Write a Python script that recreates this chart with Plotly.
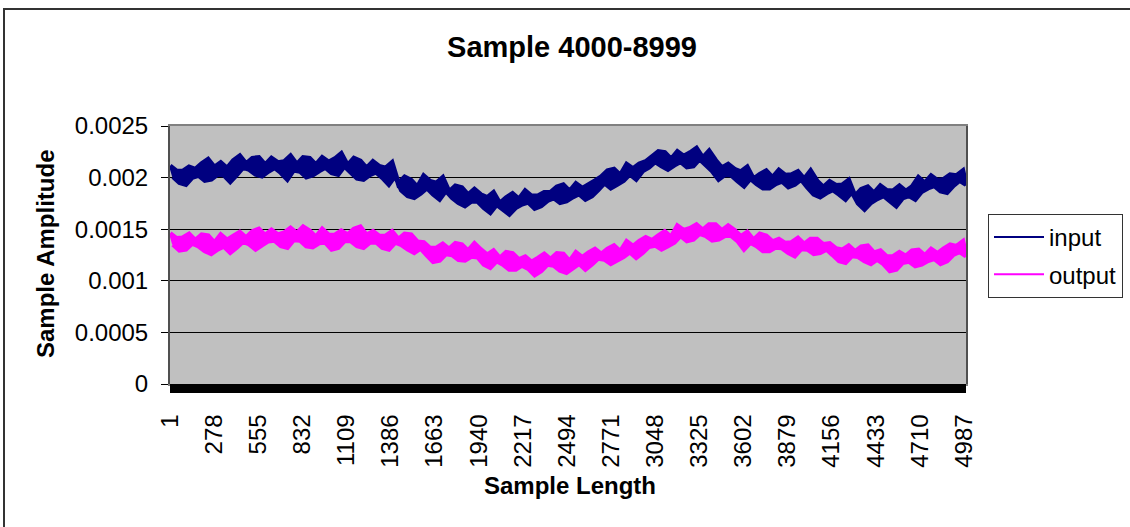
import numpy as np
import plotly.graph_objects as go

# ---- data ----
tick_labels = ["1", "278", "555", "832", "1109", "1386", "1663", "1940", "2217", "2494",
               "2771", "3048", "3325", "3602", "3879", "4156", "4433", "4710", "4987"]
tick_positions = [int(t) for t in tick_labels]
n_samples = 5000

y_tick_values = [0, 0.0005, 0.001, 0.0015, 0.002, 0.0025]
y_tick_labels = ["0", "0.0005", "0.001", "0.0015", "0.002", "0.0025"]

# noisy samples: values alternate between local highs and lows of the noise band
input_amp = [
    0.002113, 0.002008, 0.002065, 0.001952, 0.002061, 0.001935, 0.002103, 0.002002,
    0.002079, 0.002022, 0.002135, 0.001974, 0.002177, 0.001984, 0.002100, 0.002032,
    0.002145, 0.002025, 0.002090, 0.001961, 0.002164, 0.002026, 0.002210, 0.002100,
    0.002133, 0.002079, 0.002187, 0.002032, 0.002194, 0.002016, 0.002123, 0.002061,
    0.002187, 0.002097, 0.002145, 0.002048, 0.002153, 0.001984, 0.002210, 0.002074,
    0.002128, 0.002062, 0.002194, 0.002006, 0.002187, 0.002026, 0.002123, 0.002066,
    0.002194, 0.002099, 0.002150, 0.002048, 0.002182, 0.002032, 0.002232, 0.002112,
    0.002119, 0.002052, 0.002187, 0.001994, 0.002161, 0.001984, 0.002090, 0.002028,
    0.002155, 0.002054, 0.002108, 0.002000, 0.002092, 0.001935, 0.002145, 0.002019,
    0.001942, 0.001878, 0.002006, 0.001823, 0.001974, 0.001806, 0.001907, 0.001848,
    0.002016, 0.001901, 0.001963, 0.001839, 0.001947, 0.001790, 0.002000, 0.001874,
    0.001863, 0.001806, 0.001919, 0.001758, 0.001903, 0.001726, 0.001832, 0.001770,
    0.001887, 0.001772, 0.001834, 0.001710, 0.001806, 0.001661, 0.001855, 0.001739,
    0.001750, 0.001693, 0.001806, 0.001645, 0.001845, 0.001710, 0.001791, 0.001744,
    0.001871, 0.001762, 0.001821, 0.001703, 0.001823, 0.001726, 0.001855, 0.001778,
    0.001857, 0.001804, 0.001910, 0.001758, 0.001929, 0.001774, 0.001867, 0.001813,
    0.001942, 0.001843, 0.001896, 0.001790, 0.001932, 0.001823, 0.001968, 0.001881,
    0.002007, 0.001950, 0.002065, 0.001900, 0.002080, 0.001935, 0.002022, 0.001971,
    0.002129, 0.002035, 0.002085, 0.001984, 0.002132, 0.002065, 0.002155, 0.002101,
    0.002203, 0.002155, 0.002252, 0.002113, 0.002242, 0.002080, 0.002177, 0.002121,
    0.002252, 0.002155, 0.002207, 0.002103, 0.002241, 0.002113, 0.002284, 0.002181,
    0.002190, 0.002123, 0.002258, 0.002065, 0.002168, 0.001984, 0.002094, 0.002030,
    0.002129, 0.002024, 0.002081, 0.001968, 0.002057, 0.001919, 0.002103, 0.001993,
    0.001986, 0.001940, 0.002032, 0.001900, 0.002065, 0.001900, 0.001999, 0.001941,
    0.002071, 0.001966, 0.002023, 0.001910, 0.002027, 0.001935, 0.002058, 0.001984,
    0.001986, 0.001907, 0.002065, 0.001839, 0.001968, 0.001813, 0.001906, 0.001852,
    0.001961, 0.001882, 0.001924, 0.001839, 0.001928, 0.001790, 0.001974, 0.001864,
    0.001819, 0.001752, 0.001887, 0.001694, 0.001910, 0.001758, 0.001849, 0.001796,
    0.001919, 0.001825, 0.001875, 0.001774, 0.001871, 0.001726, 0.001919, 0.001803,
    0.001868, 0.001826, 0.001910, 0.001790, 0.002000, 0.001865, 0.001946, 0.001899,
    0.002016, 0.001922, 0.001972, 0.001871, 0.001983, 0.001855, 0.002026, 0.001923,
    0.002019, 0.001974, 0.002065, 0.001935,
]

output_amp = [
    0.001458, 0.001353, 0.001410, 0.001297, 0.001415, 0.001306, 0.001452, 0.001364,
    0.001391, 0.001337, 0.001445, 0.001290, 0.001435, 0.001264, 0.001367, 0.001307,
    0.001445, 0.001334, 0.001394, 0.001274, 0.001433, 0.001323, 0.001470, 0.001382,
    0.001417, 0.001357, 0.001477, 0.001306, 0.001500, 0.001348, 0.001439, 0.001386,
    0.001490, 0.001392, 0.001445, 0.001339, 0.001463, 0.001323, 0.001510, 0.001398,
    0.001458, 0.001394, 0.001522, 0.001339, 0.001483, 0.001329, 0.001421, 0.001368,
    0.001500, 0.001374, 0.001442, 0.001306, 0.001443, 0.001323, 0.001483, 0.001387,
    0.001444, 0.001387, 0.001500, 0.001339, 0.001522, 0.001323, 0.001442, 0.001373,
    0.001477, 0.001377, 0.001431, 0.001323, 0.001434, 0.001306, 0.001477, 0.001374,
    0.001401, 0.001350, 0.001452, 0.001306, 0.001445, 0.001274, 0.001377, 0.001317,
    0.001370, 0.001251, 0.001315, 0.001187, 0.001316, 0.001200, 0.001355, 0.001262,
    0.001307, 0.001253, 0.001361, 0.001206, 0.001348, 0.001200, 0.001289, 0.001237,
    0.001361, 0.001231, 0.001301, 0.001161, 0.001250, 0.001129, 0.001290, 0.001193,
    0.001218, 0.001161, 0.001274, 0.001113, 0.001264, 0.001113, 0.001204, 0.001151,
    0.001232, 0.001119, 0.001180, 0.001058, 0.001218, 0.001097, 0.001258, 0.001161,
    0.001208, 0.001151, 0.001264, 0.001103, 0.001258, 0.001080, 0.001187, 0.001125,
    0.001274, 0.001169, 0.001226, 0.001113, 0.001270, 0.001161, 0.001306, 0.001219,
    0.001257, 0.001209, 0.001306, 0.001167, 0.001339, 0.001200, 0.001283, 0.001235,
    0.001380, 0.001280, 0.001334, 0.001226, 0.001383, 0.001274, 0.001419, 0.001332,
    0.001390, 0.001345, 0.001435, 0.001306, 0.001477, 0.001339, 0.001422, 0.001374,
    0.001532, 0.001438, 0.001488, 0.001387, 0.001507, 0.001403, 0.001542, 0.001459,
    0.001490, 0.001438, 0.001542, 0.001394, 0.001542, 0.001403, 0.001486, 0.001438,
    0.001532, 0.001438, 0.001488, 0.001387, 0.001429, 0.001306, 0.001470, 0.001372,
    0.001395, 0.001339, 0.001452, 0.001290, 0.001435, 0.001290, 0.001377, 0.001326,
    0.001403, 0.001319, 0.001364, 0.001274, 0.001370, 0.001242, 0.001413, 0.001310,
    0.001354, 0.001306, 0.001403, 0.001264, 0.001403, 0.001274, 0.001351, 0.001306,
    0.001361, 0.001252, 0.001311, 0.001194, 0.001298, 0.001177, 0.001339, 0.001242,
    0.001282, 0.001235, 0.001329, 0.001194, 0.001339, 0.001167, 0.001270, 0.001210,
    0.001290, 0.001165, 0.001232, 0.001097, 0.001234, 0.001113, 0.001274, 0.001177,
    0.001239, 0.001189, 0.001290, 0.001145, 0.001297, 0.001161, 0.001243, 0.001195,
    0.001306, 0.001216, 0.001264, 0.001167, 0.001309, 0.001194, 0.001348, 0.001256,
    0.001332, 0.001283, 0.001380, 0.001242,
]

series = [("input", input_amp, "#000080"), ("output", output_amp, "#FF00FF")]

FONT = "Arial, Liberation Sans, sans-serif"

fig = go.Figure()
for name, amp, color in series:
    x = np.linspace(1, n_samples, len(amp))
    y = np.asarray(amp)
    # dense noise band: area between the highs (even samples) and lows (odd samples)
    band_x = np.concatenate([x[0::2], x[1::2][::-1]])
    band_y = np.concatenate([y[0::2], y[1::2][::-1]])
    fig.add_trace(go.Scatter(x=band_x, y=band_y, mode="lines", fill="toself",
                             fillcolor=color,
                             line=dict(color=color, width=5, simplify=False),
                             showlegend=False, hoverinfo="skip", legendgroup=name))
    fig.add_trace(go.Scatter(x=x, y=y, mode="lines", name=name, legendgroup=name,
                             line=dict(color=color, width=2, simplify=False)))

fig.update_layout(
    width=1130, height=527,
    margin=dict(l=170, r=164, t=126, b=143, autoexpand=False),
    paper_bgcolor="white",
    plot_bgcolor="#C0C0C0",
    font=dict(family=FONT, size=24, color="black"),
    showlegend=True,
    legend=dict(x=(988 - 170) / 796, y=(384 - 214) / 258, xanchor="left", yanchor="top",
                bgcolor="white", bordercolor="#333333", borderwidth=1,
                font=dict(size=24, family=FONT), itemwidth=50,
                tracegroupgap=3),
    title=dict(text="<b>Sample 4000-8999</b>", x=(572 - 170) / 796, xref="paper",
               y=1 - 47 / 527, yref="container", xanchor="center", yanchor="middle",
               font=dict(size=29, family=FONT, color="black")),
)

fig.update_xaxes(
    range=[1, n_samples], tickmode="array", tickvals=tick_positions, ticktext=tick_labels,
    tickangle=-90, ticks="outside", ticklen=9, tickcolor="rgba(0,0,0,0)",
    ticklabelstandoff=10,
    showgrid=False, zeroline=False,
    showline=True, mirror=True, linecolor="#808080", linewidth=1.5,
    tickfont=dict(size=24, family=FONT),
)
fig.update_yaxes(
    range=[0, 0.0025], tickmode="array", tickvals=y_tick_values, ticktext=y_tick_labels,
    ticks="outside", ticklen=7, tickcolor="black", tickwidth=1,
    ticklabelstandoff=8,
    showgrid=True, gridcolor="black", gridwidth=1, zeroline=False,
    showline=True, mirror=True, linecolor="#505050", linewidth=2,
    tickfont=dict(size=24, family=FONT),
)

fig.add_annotation(text="<b>Sample Length</b>", xref="paper", yref="paper",
                   x=(570 - 170) / 796, y=(384 - 485) / 258, showarrow=False,
                   xanchor="center", yanchor="middle", font=dict(size=24, family=FONT))
fig.add_annotation(text="<b>Sample Amplitude</b>", xref="paper", yref="paper",
                   x=(45 - 170) / 796, y=(384 - 254) / 258, showarrow=False,
                   textangle=-90, xanchor="center", yanchor="middle",
                   font=dict(size=24, family=FONT))

# dense category tick band below the x axis
fig.add_shape(type="rect", xref="paper", yref="paper",
              x0=0, x1=1, y0=-9 / 258, y1=0, fillcolor="black",
              line=dict(width=0), layer="above")
# outer chart border
fig.add_shape(type="rect", xref="paper", yref="paper",
              x0=(4 - 170) / 796, x1=(1140 - 170) / 796,
              y0=(384 - 540) / 258, y1=(384 - 9) / 258,
              line=dict(color="#333333", width=2), fillcolor="rgba(0,0,0,0)")

fig.write_html("out.html")
